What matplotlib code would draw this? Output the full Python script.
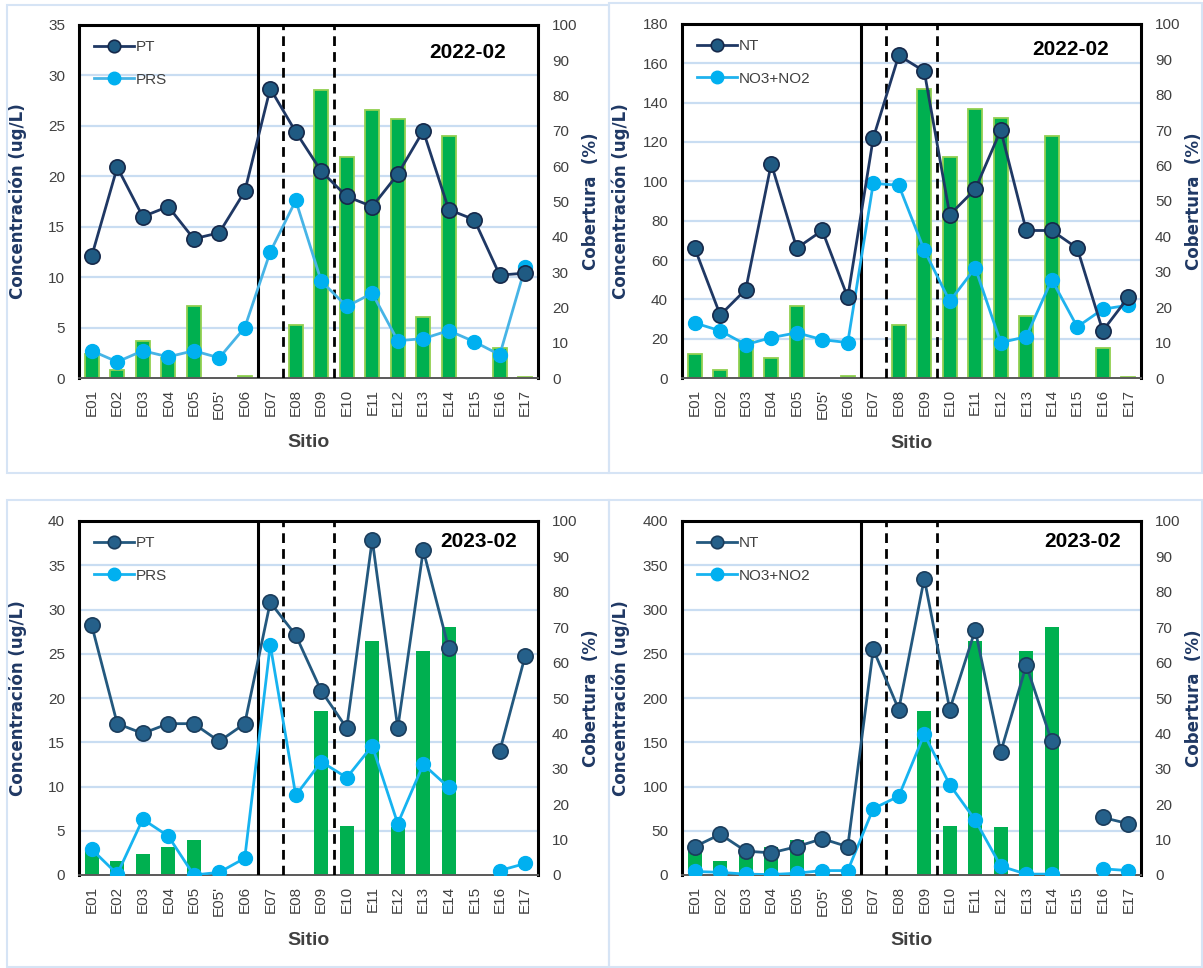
import matplotlib
matplotlib.use("Agg")
import matplotlib.pyplot as plt
import numpy as np
from matplotlib.patches import Rectangle

SITES = ["E01", "E02", "E03", "E04", "E05", "E05'", "E06", "E07", "E08",
         "E09", "E10", "E11", "E12", "E13", "E14", "E15", "E16", "E17"]
nan = np.nan

# 2022-02
PT_22 = [12.1, 20.9, 16.0, 17.0, 13.8, 14.4, 18.5, 28.7, 24.4,
         20.5, 18.0, 17.0, 20.2, 24.5, 16.7, 15.7, 10.2, 10.4]
PRS_22 = [2.7, 1.6, 2.7, 2.1, 2.7, 2.0, 5.0, 12.5, 17.6,
          9.6, 7.1, 8.4, 3.7, 3.9, 4.7, 3.6, 2.3, 11.0]
NT_22 = [66, 32, 45, 109, 66, 75, 41, 122, 164,
         156, 83, 96, 126, 75, 75, 66, 24, 41]
NOX_22 = [28, 24, 17, 20.5, 23, 19.5, 18, 99, 98,
          65, 39, 56, 18, 21, 50, 26, 35, 37]
COB_22 = [6.9, 2.3, 10.5, 5.7, 20.4, 0, 0.7, 0, 15.1,
          81.6, 62.5, 76.0, 73.4, 17.4, 68.5, 0, 8.5, 0.2]

# 2023-02
PT_23 = [28.2, 17.1, 16.0, 17.1, 17.1, 15.1, 17.1, 30.8, 27.1,
         20.8, 16.6, 37.9, 16.6, 36.7, 25.6, nan, 14.0, 24.8]
PRS_23 = [2.9, 0.1, 6.3, 4.4, 0.0, 0.3, 1.9, 26.0, 9.0,
          12.8, 11.0, 14.6, 5.8, 12.5, 9.9, nan, 0.5, 1.3]
NT_23 = [32, 46, 27, 25, 32, 41, 32, 255, 187,
         335, 187, 277, 139, 237, 151, nan, 65, 58]
NOX_23 = [4, 3, 1, 0.5, 2, 5, 5, 75, 89,
          159, 102, 62, 10, 1, 1, nan, 7, 5]
COB_23 = [7.0, 4.0, 6.0, 7.9, 10.0, 0, 0.2, 0, 0,
          46.2, 13.8, 66.0, 13.5, 63.2, 70.1, 0, 0, 0]

W, H = 1203, 968
TICK_FONT = "Liberation Sans"
NAVY = "#1F3864"
GRID = "#C9DDF2"
GREEN = "#00B050"
LIGHT_GREEN = "#92D050"
SKY = "#00B0F0"

fig = plt.figure(figsize=(W / 100, H / 100), dpi=100)


def fig_box(x0, y0, x1, y1):
    """pixel box (top-left origin) -> figure fraction rect"""
    return [x0 / W, 1 - y1 / H, (x1 - x0) / W, (y1 - y0) / H]


# light panel frames
for x0, y0, x1, y1 in [(7, 5, 609, 473), (609, 3, 1202, 473),
                       (7, 500, 609, 967), (609, 500, 1202, 967)]:
    fig.patches.append(Rectangle((x0 / W, 1 - y1 / H), (x1 - x0) / W,
                                 (y1 - y0) / H, transform=fig.transFigure,
                                 fill=False, ec="#D6E4F5", lw=1.5))


def panel(rect, dark, light, cob, names, ymax, ystep, year, dark_style,
          light_line, bar_edge, year_pos):
    x = np.arange(len(SITES))
    cob = np.asarray(cob, dtype=float)

    axb = fig.add_axes(rect)   # coverage bars, right axis
    axl = axb.twinx()          # concentrations, left axis (drawn on top)
    axb.yaxis.tick_right()
    axb.yaxis.set_label_position("right")
    axl.yaxis.tick_left()
    axl.yaxis.set_label_position("left")

    axb.set_ylim(0, 100)
    axb.set_xlim(-0.5, len(SITES) - 0.5)

    # horizontal grid at the left-axis ticks (behind the bars)
    for t in np.arange(ystep, ymax, ystep):
        axb.axhline(t / ymax * 100, color=GRID, lw=1.6, zorder=0)

    keep = cob > 0
    axb.bar(x[keep], cob[keep], width=0.54, color=GREEN,
            edgecolor=LIGHT_GREEN if bar_edge else GREEN,
            linewidth=1.3 if bar_edge else 0, zorder=2)
    axb.set_yticks(np.arange(0, 101, 10))
    axb.tick_params(axis="y", length=0, pad=10, labelsize=11,
                    labelcolor="#404040")
    for lab in axb.get_yticklabels():
        lab.set_fontfamily(TICK_FONT)
    axb.set_ylabel("Cobertura  (%)", fontsize=12, fontweight="bold",
                   color=NAVY)
    axb.yaxis.set_label_coords(1.095, 0.5)

    axb.set_xticks(x)
    axb.set_xticklabels(SITES, rotation=90, fontsize=11,
                        fontfamily=TICK_FONT, color="#404040")
    axb.tick_params(axis="x", length=0, pad=8)
    axb.set_xlabel("Sitio", fontsize=14, fontweight="bold",
                   fontfamily=TICK_FONT, color="#404040")
    axb.xaxis.set_label_coords(0.5, -0.16)

    for side in ["left", "right", "top"]:
        axb.spines[side].set_linewidth(2.2)
        axb.spines[side].set_color("black")
    axb.spines["bottom"].set_linewidth(1.4)
    axb.spines["bottom"].set_color("#595959")

    axl.set_ylim(0, ymax)
    axl.set_yticks(np.arange(0, ymax + 0.1, ystep))
    axl.tick_params(axis="y", length=0, pad=10, labelsize=11,
                    labelcolor="#404040")
    for lab in axl.get_yticklabels():
        lab.set_fontfamily(TICK_FONT)
    axl.set_ylabel("Concentración (ug/L)", fontsize=12, fontweight="bold",
                   color=NAVY)
    axl.yaxis.set_label_coords(-0.113, 0.5)
    for sp in axl.spines.values():
        sp.set_visible(False)

    # zone separators
    axl.axvline(6.5, color="black", lw=2.2, zorder=1)
    for xv in (7.5, 9.5):
        axl.axvline(xv, color="black", lw=2.0, ls=(0, (3.5, 2.2)), zorder=1)

    line_c, face_c, edge_c = dark_style
    axl.plot(x, dark, color=line_c, lw=2.0, marker="o", ms=11,
             mfc=face_c, mec=edge_c, mew=1.2, label=names[0], zorder=4)
    axl.plot(x, light, color=light_line, lw=2.0, marker="o", ms=10,
             mfc=SKY, mec=SKY, label=names[1], zorder=3)

    leg = axl.legend(loc="upper left", bbox_to_anchor=(0.0, 1.0),
                     frameon=False, handlelength=2.6, labelspacing=1.2,
                     handletextpad=0.1, borderaxespad=0.6,
                     prop={"family": TICK_FONT, "size": 11})
    for txt in leg.get_texts():
        txt.set_color("#404040")
    for h in leg.legend_handles:
        h.set_markersize(9)

    axl.text(year_pos[0], year_pos[1], year, transform=axl.transAxes,
             ha="center", va="center", fontsize=15, fontweight="bold",
             fontfamily=TICK_FONT, color="black")


STYLE_22 = ("#1F3864", "#1F5A82", "#16294A")
STYLE_23 = ("#23587E", "#25608A", "#1B3D5C")

panel(fig_box(79, 25, 538, 378), PT_22, PRS_22, COB_22, ("PT", "PRS"),
      35, 5, "2022-02", STYLE_22, "#47B4E6", True, (0.847, 0.923))
panel(fig_box(682, 24, 1141, 378), NT_22, NOX_22, COB_22, ("NT", "NO3+NO2"),
      180, 20, "2022-02", STYLE_22, "#1FB2EE", True, (0.847, 0.927))
panel(fig_box(79, 521, 538, 875), PT_23, PRS_23, COB_23, ("PT", "PRS"),
      40, 5, "2023-02", STYLE_23, "#16B3F0", False, (0.871, 0.943))
panel(fig_box(682, 521, 1141, 875), NT_23, NOX_23, COB_23, ("NT", "NO3+NO2"),
      400, 50, "2023-02", STYLE_23, "#16B3F0", False, (0.873, 0.943))

fig.savefig("out.png", dpi=100)
